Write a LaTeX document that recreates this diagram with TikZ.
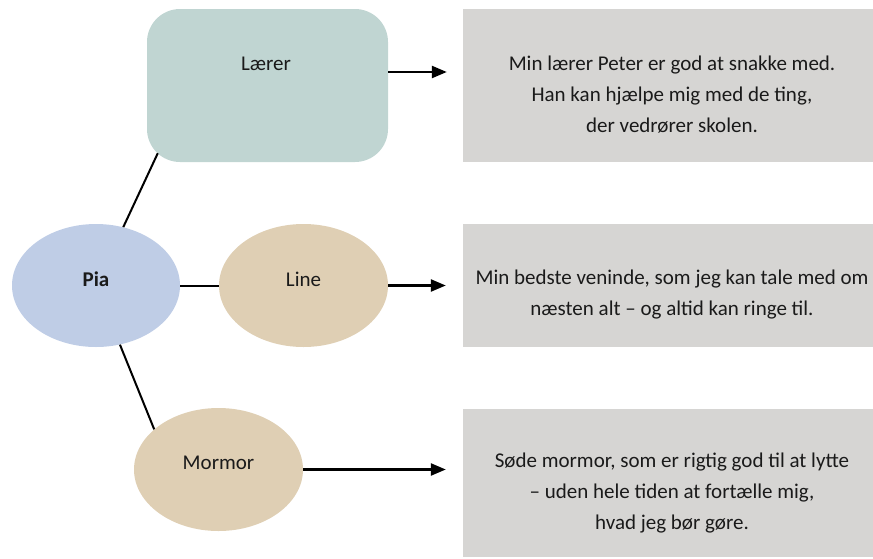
\documentclass[tikz,border=0pt]{standalone}
\usepackage{fontspec}
\setmainfont{Carlito}
\usetikzlibrary{shapes.geometric,arrows.meta}
\definecolor{cLaerer}{HTML}{C0D5D2}
\definecolor{cPia}{HTML}{BFCDE6}
\definecolor{cFriend}{HTML}{DFCFB4}
\definecolor{cNote}{HTML}{D6D5D3}
\definecolor{cInk}{HTML}{1A1A1A}
\tikzset{
  bubble/.style={ellipse, minimum width=169pt, minimum height=123pt, inner sep=0pt},
  note/.style={rectangle, fill=cNote, minimum width=410pt, inner sep=0pt},
  lbl/.style={text=cInk, font=\fontsize{21}{25}\selectfont},
  notetext/.style={align=center, text=cInk, font=\fontsize{21}{31}\selectfont},
  link/.style={line width=2pt, draw=black},
  arr/.style={line width=2.4pt, draw=black, -{Triangle[length=15pt,width=12pt]}}
}
\begin{document}
\begin{tikzpicture}[x=1pt,y=-1pt]
\useasboundingbox (0,0) rectangle (873,558);

% people
\node[fill=cLaerer, rounded corners=33pt, minimum width=241pt, minimum height=153pt, inner sep=0pt] (laerer) at (267.5,85.5) {};
\node[lbl] (laererlbl) at (266,64) {Lærer};
\node[bubble, fill=cPia, minimum width=168pt, label={[lbl, font=\fontsize{21}{25}\selectfont\bfseries, yshift=6pt]center:Pia}] (pia) at (96,285.5) {};
\node[bubble, fill=cFriend, label={[lbl, yshift=6pt]center:Line}] (line) at (303.5,285.5) {};
\node[bubble, fill=cFriend, label={[lbl, yshift=7pt]center:Mormor}] (mormor) at (218.5,469.5) {};

% descriptions
\node[note, minimum height=153pt] (box1) at (668,85.5) {};
\node[note, minimum height=123pt] (box2) at (668,285.5) {};
\node[note, minimum height=148pt] (box3) at (668,483) {};
\node[notetext] (txt1) at (672,95) {Min lærer Peter er god at snakke med.\\Han kan hjælpe mig med de ting,\\der vedrører skolen.};
\node[notetext] (txt2) at (672,294.5) {Min bedste veninde, som jeg kan tale med om\\næsten alt – og altid kan ringe til.};
\node[notetext] (txt3) at (672,493.5) {Søde mormor, som er rigtig god til at lytte\\– uden hele tiden at fortælle mig,\\hvad jeg bør gøre.};

% links from Pia
\coordinate (laererhook) at ([shift={(11pt,9pt)}]laerer.south west);
\draw[link] (pia) -- (laererhook);
\draw[link] (pia) -- (line);
\draw[link] (pia) -- (mormor.148);

% arrows to the descriptions
\coordinate (a1) at ([yshift=13.5pt]laerer.east);
\coordinate (t1) at ([xshift=-16pt]box1.west);
\coordinate (t2) at ([xshift=-17pt]box2.west);
\coordinate (t3) at ([xshift=-17pt]box3.west);
\draw[arr] (a1) -- (a1 -| t1);
\draw[arr] (line.east) -- (line.east -| t2);
\draw[arr] (mormor.east) -- (mormor.east -| t3);
\end{tikzpicture}
\end{document}
